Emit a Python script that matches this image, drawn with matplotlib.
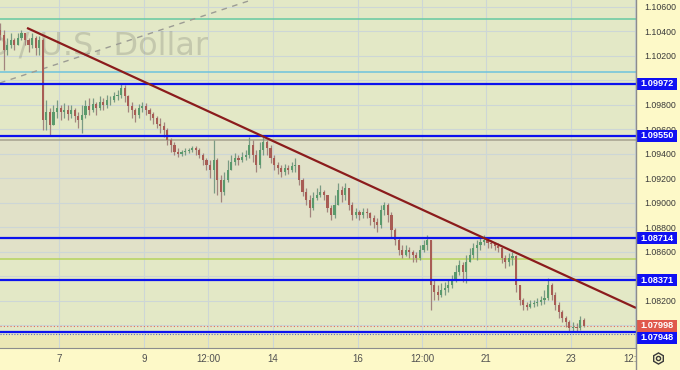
import numpy as np
import matplotlib.pyplot as plt
from matplotlib.patches import Rectangle
from matplotlib.lines import Line2D
from matplotlib.transforms import blended_transform_factory, Bbox, TransformedBbox

plt.rcParams['font.family'] = ['Liberation Sans', 'DejaVu Sans']

# 2-hour bars, time in trading days (0 = day 7, weekends skipped)
day0 = -1.38
bar_step = 1 / 12
first_open = 1.10412

closes = [1.10371, 1.10249, 1.10290, 1.10330, 1.10290, 1.10347, 1.10388, 1.10330, 1.10290, 1.10347,
          1.10265, 1.10330, 1.09677, 1.09743, 1.09637, 1.09743, 1.09775, 1.09743, 1.09759, 1.09726,
          1.09759, 1.09710, 1.09677, 1.09718, 1.09792, 1.09759, 1.09808, 1.09775, 1.09824, 1.09800,
          1.09841, 1.09841, 1.09873, 1.09882, 1.09939, 1.09873, 1.09792, 1.09759, 1.09718, 1.09775,
          1.09792, 1.09759, 1.09726, 1.09694, 1.09645, 1.09629, 1.09596, 1.09514, 1.09473, 1.09416,
          1.09400, 1.09416, 1.09424, 1.09433, 1.09449, 1.09433, 1.09392, 1.09351, 1.09310, 1.09269,
          1.09351, 1.09188, 1.09090, 1.09188, 1.09269, 1.09335, 1.09367, 1.09351, 1.09375, 1.09392,
          1.09473, 1.09392, 1.09310, 1.09433, 1.09498, 1.09449, 1.09367, 1.09310, 1.09286, 1.09253,
          1.09286, 1.09269, 1.09302, 1.09310, 1.09188, 1.09090, 1.09024, 1.08959, 1.09041, 1.09065,
          1.09090, 1.09065, 1.08959, 1.08902, 1.08984, 1.09106, 1.09065, 1.09122, 1.08984, 1.08902,
          1.08926, 1.08902, 1.08926, 1.08918, 1.08877, 1.08845, 1.08820, 1.08943, 1.08984, 1.08902,
          1.08780, 1.08698, 1.08616, 1.08575, 1.08616, 1.08600, 1.08575, 1.08551, 1.08616, 1.08657,
          1.08698, 1.08331, 1.08274, 1.08249, 1.08290, 1.08306, 1.08331, 1.08371, 1.08437, 1.08494,
          1.08437, 1.08518, 1.08575, 1.08633, 1.08657, 1.08682, 1.08698, 1.08673, 1.08665, 1.08649,
          1.08633, 1.08551, 1.08518, 1.08551, 1.08567, 1.08331, 1.08208, 1.08167, 1.08151, 1.08176,
          1.08184, 1.08192, 1.08208, 1.08224, 1.08331, 1.08249, 1.08167, 1.08110, 1.08061, 1.08029,
          1.07980, 1.07988, 1.07980, 1.08045, 1.07998]

highs = [1.10469, 1.10412, 1.10347, 1.10388, 1.10347, 1.10388, 1.10412, 1.10388, 1.10347, 1.10388,
         1.10363, 1.10363, 1.10347, 1.09841, 1.09775, 1.09800, 1.09841, 1.09800, 1.09816, 1.09800,
         1.09800, 1.09775, 1.09743, 1.09800, 1.09841, 1.09857, 1.09857, 1.09824, 1.09873, 1.09857,
         1.09882, 1.09873, 1.09906, 1.09922, 1.09980, 1.09963, 1.09882, 1.09824, 1.09775, 1.09808,
         1.09824, 1.09816, 1.09775, 1.09743, 1.09710, 1.09694, 1.09661, 1.09612, 1.09530, 1.09498,
         1.09449, 1.09433, 1.09449, 1.09449, 1.09465, 1.09465, 1.09449, 1.09408, 1.09367, 1.09351,
         1.09514, 1.09367, 1.09229, 1.09253, 1.09351, 1.09392, 1.09408, 1.09392, 1.09416, 1.09433,
         1.09539, 1.09514, 1.09433, 1.09498, 1.09539, 1.09514, 1.09473, 1.09392, 1.09335, 1.09310,
         1.09318, 1.09310, 1.09335, 1.09367, 1.09310, 1.09204, 1.09122, 1.09065, 1.09090, 1.09122,
         1.09147, 1.09106, 1.09065, 1.08984, 1.09065, 1.09163, 1.09139, 1.09163, 1.09122, 1.09008,
         1.08959, 1.08943, 1.08959, 1.08959, 1.08926, 1.08902, 1.08877, 1.08984, 1.09008, 1.09000,
         1.08926, 1.08796, 1.08714, 1.08657, 1.08657, 1.08641, 1.08616, 1.08600, 1.08657, 1.08698,
         1.08739, 1.08698, 1.08371, 1.08331, 1.08347, 1.08355, 1.08371, 1.08412, 1.08494, 1.08535,
         1.08518, 1.08575, 1.08633, 1.08673, 1.08698, 1.08714, 1.08739, 1.08714, 1.08698, 1.08682,
         1.08673, 1.08633, 1.08575, 1.08592, 1.08600, 1.08575, 1.08331, 1.08224, 1.08192, 1.08208,
         1.08208, 1.08224, 1.08241, 1.08290, 1.08388, 1.08347, 1.08274, 1.08192, 1.08127, 1.08078,
         1.08045, 1.08029, 1.08020, 1.08078, 1.08061]

lows = [1.10330, 1.10086, 1.10208, 1.10265, 1.10249, 1.10290, 1.10330, 1.10290, 1.10232, 1.10265,
        1.10208, 1.10208, 1.09596, 1.09596, 1.09547, 1.09637, 1.09694, 1.09677, 1.09694, 1.09677,
        1.09694, 1.09661, 1.09612, 1.09571, 1.09694, 1.09718, 1.09743, 1.09718, 1.09759, 1.09759,
        1.09775, 1.09800, 1.09824, 1.09841, 1.09857, 1.09824, 1.09743, 1.09694, 1.09661, 1.09694,
        1.09743, 1.09718, 1.09677, 1.09645, 1.09612, 1.09571, 1.09539, 1.09473, 1.09416, 1.09392,
        1.09375, 1.09384, 1.09392, 1.09408, 1.09416, 1.09392, 1.09367, 1.09310, 1.09269, 1.09204,
        1.09082, 1.09065, 1.09008, 1.09065, 1.09171, 1.09269, 1.09310, 1.09310, 1.09335, 1.09351,
        1.09367, 1.09335, 1.09253, 1.09286, 1.09392, 1.09392, 1.09326, 1.09269, 1.09237, 1.09212,
        1.09229, 1.09237, 1.09253, 1.09253, 1.09147, 1.09057, 1.08984, 1.08886, 1.08943, 1.09024,
        1.09049, 1.09024, 1.08926, 1.08861, 1.08877, 1.08984, 1.09008, 1.09024, 1.08943, 1.08861,
        1.08877, 1.08861, 1.08877, 1.08877, 1.08820, 1.08796, 1.08763, 1.08796, 1.08902, 1.08845,
        1.08722, 1.08657, 1.08575, 1.08551, 1.08567, 1.08551, 1.08518, 1.08518, 1.08535, 1.08600,
        1.08616, 1.08127, 1.08208, 1.08208, 1.08233, 1.08249, 1.08274, 1.08306, 1.08355, 1.08412,
        1.08355, 1.08347, 1.08518, 1.08551, 1.08535, 1.08616, 1.08657, 1.08633, 1.08633, 1.08616,
        1.08600, 1.08510, 1.08469, 1.08486, 1.08494, 1.08274, 1.08167, 1.08127, 1.08127, 1.08143,
        1.08151, 1.08159, 1.08167, 1.08176, 1.08208, 1.08208, 1.08127, 1.08061, 1.08029, 1.07988,
        1.07947, 1.07947, 1.07947, 1.07963, 1.07988]

# drawn levels
blue_levels = [1.09972, 1.09550, 1.08714, 1.08371, 1.07948]
thin_levels = [1.10502, 1.10069, 1.09518, 1.08543]
thin_colors = ['#66c9a2', '#6ec3dd', '#a5a18e', '#b5d35c']
last_price = 1.07998
lower_dotted = 1.07931
gray_zone = [1.08543, 1.09518]

trend_days = [-0.749, 13.513]
trend_prices = [1.10429, 1.08143]
dash_days = [-1.382, 4.473]
dash_prices = [1.09980, 1.10653]

y_ticks = [1.080, 1.082, 1.084, 1.086, 1.088, 1.090, 1.092, 1.094, 1.096, 1.098,
           1.100, 1.102, 1.104, 1.106]
hidden_ticks = [1.080, 1.084, 1.100]   # covered by the price tags
x_ticks = [0, 2, 3.5, 5, 7, 8.5, 10, 12, 13.5]
x_labels = ['7', '9', '12:00', '14', '16', '12:00', '21', '23', '12:00']

W, H = 680, 370
fig = plt.figure(figsize=(6.8, 3.7), dpi=100, facecolor='#fdf9c8')
ax = fig.add_axes([0, 22 / H, 636 / W, 348 / H])
ax.set_facecolor('#e3e8c6')
ymin, ymax = 1.07816, 1.10657
ax.set_xlim(-1.382, 13.513)
ax.set_ylim(ymin, ymax)

ax.axhspan(gray_zone[0], gray_zone[1], color='#e1e1c8', lw=0, zorder=0.1)
ax.axhspan(ymin, lower_dotted, color='#ebe7b5', lw=0, zorder=0.1)

ax.set_axisbelow(True)
ax.grid(True, color='#cdd6d6', lw=0.8)

ax.text(208 / 636, 1 - 54 / 348, 'Euro / U.S. Dollar', transform=ax.transAxes,
        ha='right', va='baseline', fontsize=23, family='DejaVu Sans',
        color='#84867a', alpha=0.32, zorder=0.8, clip_on=True)

for lv, c in zip(thin_levels, thin_colors):
    ax.axhline(lv, color=c, lw=1.1, zorder=1.2)
ax.axhline(last_price, color='#e06a5e', lw=0.8, ls=(0, (1, 2)), zorder=1.2)
ax.axhline(lower_dotted, color='#5868c8', lw=0.8, ls=(0, (1, 1.5)), zorder=1.2)

ax.axline((dash_days[0], dash_prices[0]), (dash_days[1], dash_prices[1]),
          color='#9c9c94', lw=1, ls=(0, (4, 4)), zorder=1.5)

# candles
closes = np.array(closes)
highs = np.array(highs)
lows = np.array(lows)
opens = np.r_[first_open, closes[:-1]]
x = day0 + np.arange(len(closes)) * bar_step
up = closes >= opens
ax.vlines(x, lows, highs, colors=np.where(up, '#7a9a84', '#a2847e'), lw=0.9, zorder=2)
ax.bar(x, np.abs(closes - opens), bottom=np.minimum(opens, closes), width=0.05,
       color=np.where(up, '#5a9a6c', '#a85c54'), lw=0, zorder=2.1)

for lv in blue_levels:
    ax.axhline(lv, color='#0c12ee', lw=1.6, zorder=3)

ax.plot(trend_days, trend_prices, color='#8b1c1c', lw=1.6, zorder=3.5, solid_capstyle='butt')

# axes
for s in ['left', 'top', 'right']:
    ax.spines[s].set_visible(False)
ax.spines['bottom'].set_color('#8c8c8c')
ax.yaxis.tick_right()
ax.set_yticks(y_ticks)
ax.set_yticklabels(['' if v in hidden_ticks else f'{v:.5f}' for v in y_ticks])
ax.tick_params(axis='y', length=0, pad=6, labelsize=6.3, labelcolor='#3a3a3a')
ax.set_xticks(x_ticks)
ax.set_xticklabels(x_labels)
ax.tick_params(axis='x', length=0, pad=4, labelsize=7, labelcolor='#505050')
last_lbl = ax.get_xticklabels()[-1]
last_lbl.set_clip_box(TransformedBbox(Bbox([[0, 0], [636 / W, 1]]), fig.transFigure))
last_lbl.set_clip_on(True)

# price tags on the scale
trans = blended_transform_factory(ax.transAxes, ax.transData)
dpp = (ymax - ymin) / 348
tags = sorted([(lv, '#1010f2') for lv in blue_levels] + [(last_price, '#e0584c')], reverse=True)
prev = None
for lv, c in tags:
    yc = lv if prev is None else min(lv, prev - 12 * dpp)
    prev = yc
    ax.add_patch(Rectangle((1 + 1 / 636, yc - 6 * dpp), 40 / 636, 12 * dpp, transform=trans,
                           color=c, lw=0, clip_on=False, zorder=5))
    ax.text(1 + 21 / 636, yc, f'{lv:.5f}', transform=trans, ha='center', va='center',
            color='white', fontsize=6.6, fontweight='bold', clip_on=False, zorder=6)

fig.add_artist(Line2D([636 / W, 636 / W], [0, 1], color='#8c8c8c', lw=1, transform=fig.transFigure))
fig.add_artist(Line2D([658 / W], [12 / H], marker='h', markersize=8, mfc='none', mec='#3a3a3a',
                      mew=1, transform=fig.transFigure))
fig.add_artist(Line2D([658 / W], [12 / H], marker='o', markersize=3, mfc='none', mec='#3a3a3a',
                      mew=1, transform=fig.transFigure))

fig.savefig('out.png', dpi=100, facecolor=fig.get_facecolor())
